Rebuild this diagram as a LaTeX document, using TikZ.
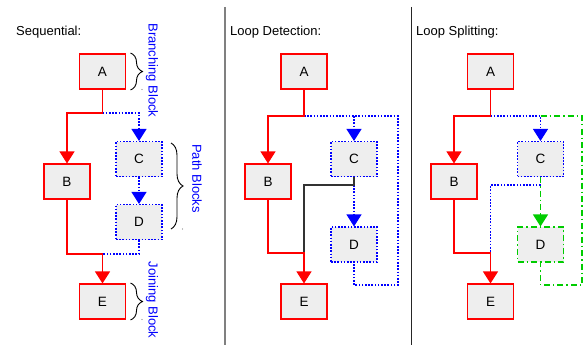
\documentclass[tikz,border=0pt]{standalone}
\usepackage{fontspec}
\setmainfont{Liberation Sans}
\usetikzlibrary{arrows.meta,decorations.pathreplacing}

\definecolor{boxfill}{HTML}{EEEEEE}
\definecolor{pathblue}{HTML}{0000FF}
\definecolor{splitgreen}{HTML}{00CC00}
\definecolor{sepgray}{HTML}{808080}

\tikzset{
  blk/.style={rectangle, fill=boxfill, minimum width=46pt, minimum height=35pt,
              inner sep=0pt, line width=1.1pt, font=\fontsize{13.5}{16}\selectfont},
  redblk/.style={blk, draw=red},
  blueblk/.style={blk, draw=pathblue, dash pattern=on 1.6pt off 1.6pt},
  greenblk/.style={blk, draw=splitgreen, dash pattern=on 6pt off 3pt on 1.5pt off 3pt},
  flow/.style={line width=1.1pt, line join=miter},
  redflow/.style={flow, draw=red},
  blueflow/.style={flow, draw=pathblue, dash pattern=on 1.6pt off 1.6pt},
  greenflow/.style={flow, draw=splitgreen, dash pattern=on 6pt off 3pt on 1.5pt off 3pt},
  darkflow/.style={flow, draw=black!80},
  tip/.style={-{Triangle[width=15pt,length=12pt]}},
  heading/.style={anchor=west, inner sep=0pt, font=\fontsize{13}{15}\selectfont},
  bracelabel/.style={text=pathblue, rotate=-90, font=\fontsize{13}{15}\selectfont},
  bracemark/.style={draw=black, line width=0.9pt,
                    decorate, decoration={brace, amplitude=#1}},
  enddot/.style={fill=black!50, draw=none, circle, minimum size=1.2pt, inner sep=0pt}
}

\begin{document}
\begin{tikzpicture}[x=1pt, y=-1pt]
\useasboundingbox (0,0) rectangle (587,345);

% panel separators
\draw[sepgray, line width=1.2pt] (225,7) -- (225,345);
\draw[black!85, line width=1.2pt] (411.5,7) -- (411.5,345);

% ---------------- Sequential ----------------
\node[heading] (h1) at (16,32) {Sequential:};
\node[redblk]  (A1) at (102.5,71.5) {A};
\node[redblk]  (B1) at (67,181.5)   {B};
\node[blueblk] (C1) at (139,159)    {C};
\node[blueblk] (D1) at (139,222)    {D};
\node[redblk]  (E1) at (102.5,301.5) {E};
\coordinate (j1) at (102.5,113);
\coordinate (k1) at (102.5,254);

\draw[blueflow, tip] (j1) -| (C1.north);
\draw[blueflow, tip] (C1.south) -- (D1.north);
\draw[blueflow] (D1.south) |- (k1);
\draw[redflow, tip] (A1.south) -- (j1) -| (B1.north);
\draw[redflow, tip] (B1.south) |- (k1) -- (E1.north);

\coordinate (br1a) at (130.5,53);  \coordinate (br1b) at (130.5,90);
\coordinate (br2a) at (171,143);   \coordinate (br2b) at (171,229);
\coordinate (br3a) at (130.5,283); \coordinate (br3b) at (130.5,320);
\draw[bracemark=12pt] (br1a) -- (br1b);
\draw[bracemark=12pt] (br2a) -- (br2b);
\draw[bracemark=12pt] (br3a) -- (br3b);
\node[enddot] (dt1) at (142,89.5) {};
\node[enddot] (dt2) at (182.5,229) {};
\node[enddot] (dt3) at (142,319.5) {};

\node[bracelabel] (lb1) at (152,70.5) {Branching Block};
\node[bracelabel] (lb2) at (197,178.5) {Path Blocks};
\node[bracelabel] (lb3) at (152,300) {Joining Block};

% ---------------- Loop Detection ----------------
\node[heading] (h2) at (230,32) {Loop Detection:};
\node[redblk]  (A2) at (304,71.5)  {A};
\node[redblk]  (B2) at (268,181.5) {B};
\node[blueblk] (C2) at (354,159)   {C};
\node[blueblk] (D2) at (354,244.5) {D};
\node[redblk]  (E2) at (304,301.5) {E};
\coordinate (j2) at (304,116);
\coordinate (m2) at (354,185);
\coordinate (k2) at (304,253);
\coordinate (loop2) at (398,285);

\draw[blueflow] (j2) -- (j2 -| loop2) -- (loop2) -| (D2.south);
\draw[blueflow, tip] (j2 -| C2.north) -- (C2.north);
\draw[blueflow, tip] (m2) -- (D2.north);
\draw[darkflow] (C2.south) -- (m2) -| (k2);
\draw[redflow, tip] (A2.south) -- (j2) -| (B2.north);
\draw[redflow, tip] (B2.south) |- (k2) -- (E2.north);

% ---------------- Loop Splitting ----------------
\node[heading] (h3) at (416,32) {Loop Splitting:};
\node[redblk]   (A3) at (490.5,71.5) {A};
\node[redblk]   (B3) at (454,181.5)  {B};
\node[blueblk]  (C3) at (540.5,159)  {C};
\node[greenblk] (D3) at (540.5,244.5) {D};
\node[redblk]   (E3) at (490.5,301.5) {E};
\coordinate (j3) at (490.5,116);
\coordinate (m3) at (540.5,185);
\coordinate (k3) at (490.5,253);
\coordinate (loop3) at (582,285);

\draw[greenflow] (j3 -| C3.north) -- (j3 -| loop3) -- (loop3) -| (D3.south);
\draw[greenflow, tip] (C3.south) -- (D3.north);
\draw[blueflow, tip] (j3) -| (C3.north);
\draw[blueflow] (m3) -| (k3);
\draw[redflow, tip] (A3.south) -- (j3) -| (B3.north);
\draw[redflow, tip] (B3.south) |- (k3) -- (E3.north);
\end{tikzpicture}
\end{document}
